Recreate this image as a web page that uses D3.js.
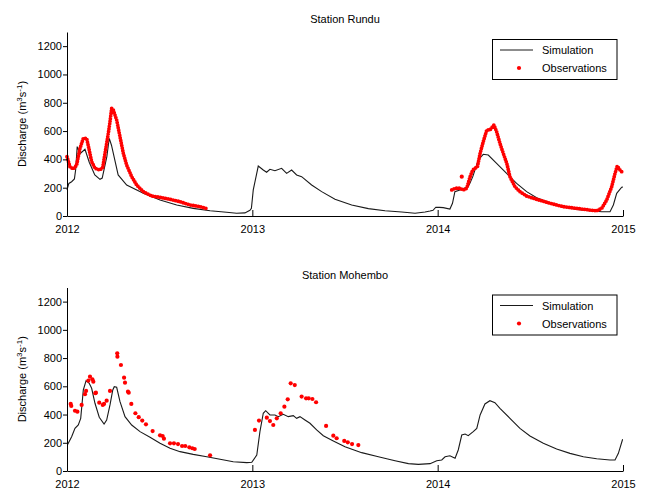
<!DOCTYPE html>
<html><head><meta charset="utf-8">
<script src="https://cdn.jsdelivr.net/npm/d3@7"></script>
<style>
body{margin:0;background:#fff;}
svg text{font-family:"Liberation Sans",Arial,sans-serif;font-size:11px;fill:#000;}
</style></head>
<body><svg id="c" width="645" height="491"></svg>
<script>
// ---- data (decimal year, discharge m3/s) ----
const xTicks = [2012, 2013, 2014, 2015];
const yTicks = [0, 200, 400, 600, 800, 1000, 1200];
const titles = ["Station Rundu", "Station Mohembo"];
const legendLabels = ["Simulation", "Observations"];

const runduSim = [
[2012.000,184],[2012.010,230],[2012.025,242],[2012.040,262],[2012.047,330],[2012.055,490],[2012.070,440],[2012.097,471],
[2012.120,380],[2012.150,290],[2012.178,259],[2012.190,268],[2012.215,420],[2012.228,549],[2012.240,500],[2012.276,290],
[2012.322,219],[2012.412,160],[2012.502,113],[2012.592,78],[2012.681,54],[2012.772,37],[2012.861,26],[2012.915,19],
[2012.960,22],[2012.987,40],[2012.995,54],[2013.005,184],[2013.032,353],[2013.059,325],[2013.077,309],[2013.095,330],
[2013.122,320],[2013.158,337],[2013.185,301],[2013.212,325],[2013.239,290],[2013.266,278],[2013.320,219],[2013.374,172],
[2013.446,118],[2013.536,78],[2013.626,52],[2013.716,37],[2013.806,28],[2013.878,19],[2013.932,28],[2013.959,35],
[2013.975,40],[2013.990,62],[2014.010,61],[2014.030,59],[2014.066,49],[2014.080,90],[2014.093,172],[2014.120,184],
[2014.156,203],[2014.170,219],[2014.190,280],[2014.219,396],[2014.246,436],[2014.273,431],[2014.318,372],[2014.372,301],
[2014.426,231],[2014.480,172],[2014.534,129],[2014.606,94],[2014.678,66],[2014.750,47],[2014.822,37],[2014.885,30],
[2014.930,30],[2014.948,78],[2014.966,160],[2014.993,203],[2015.000,205]];

const runduObs2012 = [
[2012.000,419],[2012.016,348],[2012.034,332],[2012.052,360],[2012.070,478],[2012.088,549],[2012.106,549],[2012.120,466],
[2012.133,384],[2012.151,337],[2012.178,325],[2012.193,344],[2012.205,443],[2012.223,584],[2012.232,666],[2012.241,761],
[2012.250,749],[2012.268,678],[2012.286,560],[2012.304,443],[2012.322,360],[2012.349,278],[2012.376,219],[2012.412,172],
[2012.457,141],[2012.502,132],[2012.556,118],[2012.610,101],[2012.664,78],[2012.718,66],[2012.750,54]];

const runduObs2014 = [
[2014.076,184],[2014.094,196],[2014.121,196],[2014.138,184],[2014.157,196],[2014.175,278],[2014.189,325],[2014.202,337],
[2014.215,350],[2014.229,443],[2014.246,525],[2014.265,608],[2014.282,608],[2014.304,643],[2014.318,596],[2014.336,514],
[2014.354,443],[2014.373,372],[2014.390,278],[2014.417,207],[2014.444,172],[2014.480,141],[2014.534,118],[2014.606,90],
[2014.678,66],[2014.750,54],[2014.822,42],[2014.858,37],[2014.885,54],[2014.912,113],[2014.939,207],[2014.957,301],
[2014.969,353],[2014.984,325],[2014.993,313]];

const runduObsSingle = [[2014.130,278]];

const mohemboSim = [
[2012.002,184],[2012.025,243],[2012.043,302],[2012.061,326],[2012.074,373],[2012.088,574],[2012.103,640],[2012.120,621],
[2012.133,586],[2012.151,480],[2012.174,381],[2012.200,333],[2012.214,361],[2012.232,468],[2012.247,574],[2012.255,597],
[2012.268,593],[2012.286,491],[2012.313,385],[2012.349,326],[2012.394,279],[2012.448,239],[2012.502,196],[2012.556,161],
[2012.610,137],[2012.681,118],[2012.754,101],[2012.826,83],[2012.897,66],[2012.970,59],[2012.997,62],[2013.024,113],
[2013.041,279],[2013.059,409],[2013.072,427],[2013.095,397],[2013.122,397],[2013.140,385],[2013.167,402],[2013.194,385],
[2013.221,392],[2013.239,373],[2013.257,385],[2013.284,361],[2013.311,338],[2013.347,291],[2013.383,250],[2013.437,213],
[2013.500,172],[2013.590,130],[2013.680,101],[2013.770,73],[2013.842,52],[2013.896,47],[2013.959,52],[2013.995,73],
[2014.022,78],[2014.040,101],[2014.066,108],[2014.094,90],[2014.111,149],[2014.130,255],[2014.148,262],[2014.165,250],
[2014.192,279],[2014.211,302],[2014.229,397],[2014.255,475],[2014.282,498],[2014.309,484],[2014.336,444],[2014.390,373],
[2014.444,302],[2014.498,248],[2014.570,196],[2014.642,156],[2014.714,125],[2014.786,101],[2014.858,87],[2014.930,78],
[2014.957,78],[2014.975,125],[2014.998,225]];

const mohemboObs = [
[2012.020,475],[2012.023,461],[2012.043,427],[2012.056,420],[2012.079,468],[2012.097,544],[2012.103,567],[2012.115,640],
[2012.124,668],[2012.137,650],[2012.142,633],[2012.153,551],[2012.156,555],[2012.174,484],[2012.193,468],[2012.200,475],
[2012.214,498],[2012.232,567],[2012.271,834],[2012.272,810],[2012.291,751],[2012.308,661],[2012.313,626],[2012.329,562],
[2012.333,555],[2012.347,475],[2012.369,409],[2012.387,381],[2012.406,357],[2012.426,331],[2012.462,283],[2012.502,253],
[2012.516,248],[2012.523,229],[2012.556,196],[2012.577,196],[2012.599,191],[2012.621,177],[2012.638,177],[2012.660,168],
[2012.676,161],[2012.689,156],[2012.772,111],
[2013.014,291],[2013.036,357],[2013.078,378],[2013.095,354],[2013.113,326],[2013.132,373],[2013.153,409],[2013.173,456],
[2013.191,508],[2013.207,621],[2013.229,609],[2013.266,527],[2013.290,515],[2013.304,515],[2013.324,510],[2013.344,487],
[2013.398,319],[2013.437,250],[2013.455,232],[2013.496,213],[2013.515,203],[2013.538,191],[2013.572,184]];

// ---- drawing ----
const svg = d3.select("#c");
const x = d3.scaleLinear().domain([2012, 2015]).range([67, 623]);

const panels = [
  {top: 32, bottom: 216, sim: runduSim, dense: [runduObs2012, runduObs2014], dots: runduObsSingle, title: titles[0]},
  {top: 287.5, bottom: 471, sim: mohemboSim, dense: [], dots: mohemboObs, title: titles[1]}
];

panels.forEach(p => {
  const y = d3.scaleLinear().domain([0, 1300]).range([p.bottom, p.top]);
  const g = svg.append("g");
  const line = d3.line().x(d => x(d[0])).y(d => y(d[1]));

  // simulation line
  g.append("path").datum(p.sim).attr("d", line)
    .attr("fill", "none").attr("stroke", "#1a1a1a").attr("stroke-width", 1.1);

  // dense observations (daily dots)
  p.dense.forEach(seg => {
    g.append("path").datum(seg).attr("d", line)
      .attr("fill", "none").attr("stroke", "#ff0000").attr("stroke-width", 3.8)
      .attr("stroke-linecap", "round").attr("stroke-dasharray", "0 2.6");
  });
  // discrete observations
  g.selectAll("circle.obs").data(p.dots).enter().append("circle")
    .attr("class", "obs").attr("cx", d => x(d[0])).attr("cy", d => y(d[1]))
    .attr("r", 2.1).attr("fill", "#ff0000");

  // axes
  const xa = g.append("g").attr("transform", `translate(0,${p.bottom})`)
    .call(d3.axisBottom(x).tickValues(xTicks).tickFormat(d3.format("d")).tickSizeInner(-6).tickSizeOuter(0).tickPadding(9));
  const ya = g.append("g").attr("transform", `translate(${x(2012)},0)`)
    .call(d3.axisLeft(y).tickValues(yTicks).tickFormat(d3.format("d")).tickSizeInner(4).tickSizeOuter(0).tickPadding(1));
  [xa, ya].forEach(a => {
    a.select(".domain").attr("stroke", "#000").attr("stroke-width", 1);
    a.selectAll(".tick line").attr("stroke", "#000");
    a.selectAll("text").attr("font-family", '"Liberation Sans",Arial,sans-serif').attr("font-size", 11).attr("fill", "#000");
  });

  // title
  g.append("text").attr("x", (x(2012) + x(2015)) / 2).attr("y", p.top - 9)
    .attr("text-anchor", "middle").text(p.title);

  // y label
  const yl = g.append("text").attr("transform", `translate(26,${(p.top + p.bottom) / 2}) rotate(-90)`)
    .attr("text-anchor", "middle");
  yl.append("tspan").text("Discharge (m");
  yl.append("tspan").attr("font-size", 8).attr("dy", -4).text("3");
  yl.append("tspan").attr("dy", 4).text("s");
  yl.append("tspan").attr("font-size", 8).attr("dy", -4).text("-1");
  yl.append("tspan").attr("dy", 4).text(")");

  // legend
  const ly = p.top + 7;
  const lg = g.append("g");
  lg.append("rect").attr("x", 492.5).attr("y", ly + 0.5).attr("width", 124.5).attr("height", 40)
    .attr("fill", "#fff").attr("stroke", "#000").attr("stroke-width", 1);
  lg.append("line").attr("x1", 500).attr("x2", 533).attr("y1", ly + 11).attr("y2", ly + 11)
    .attr("stroke", "#1a1a1a").attr("stroke-width", 1.1);
  lg.append("circle").attr("cx", 519).attr("cy", ly + 29).attr("r", 2.1).attr("fill", "#ff0000");
  lg.append("text").attr("x", 542).attr("y", ly + 15).text(legendLabels[0]);
  lg.append("text").attr("x", 542).attr("y", ly + 33).text(legendLabels[1]);
});
</script></body></html>
